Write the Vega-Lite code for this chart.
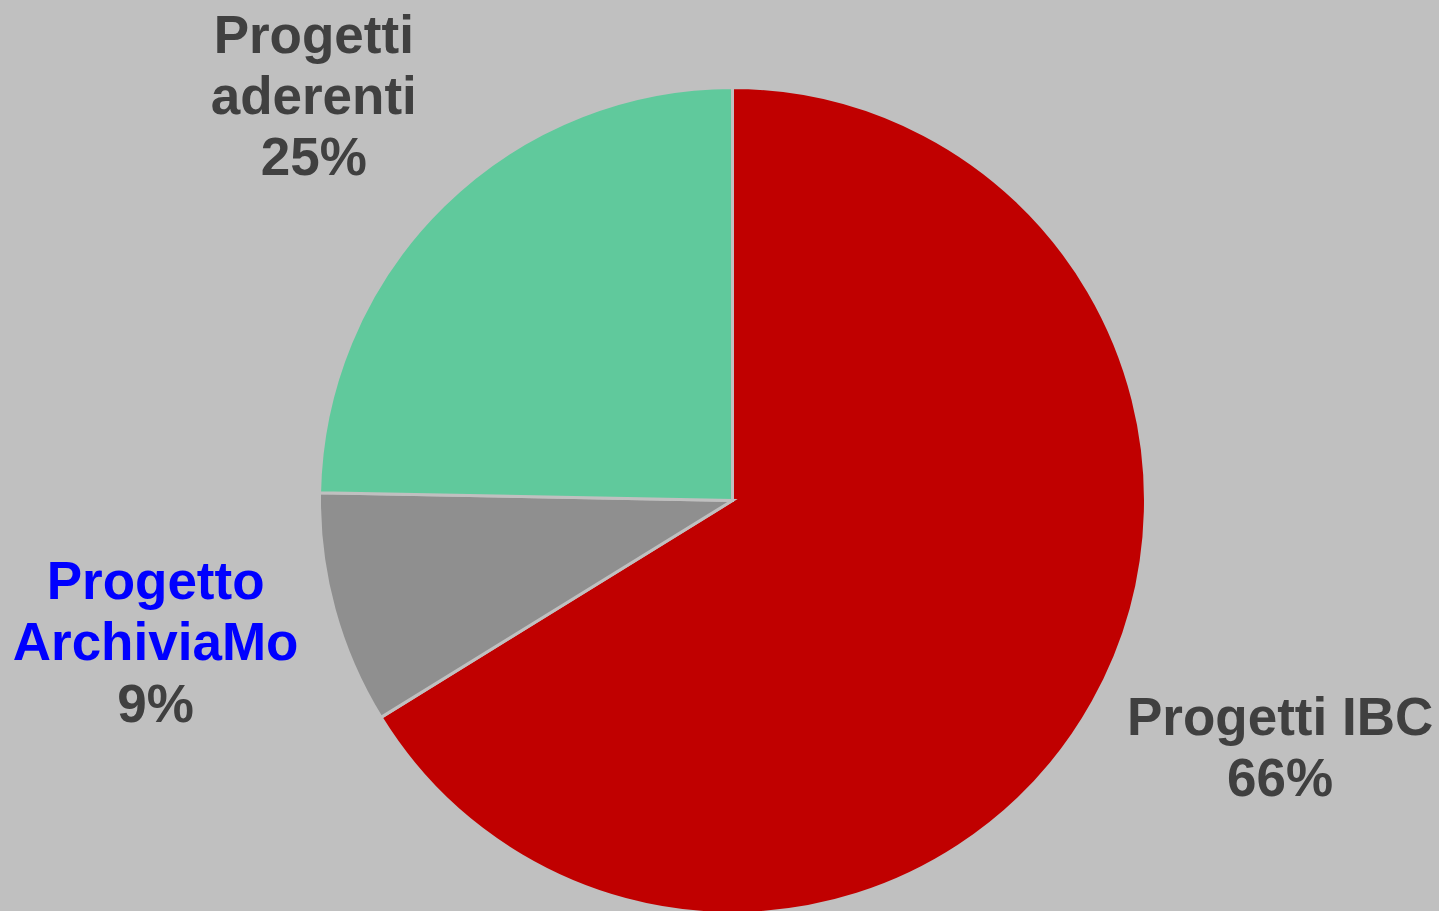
{
  "$schema": "https://vega.github.io/schema/vega-lite/v6.json",
  "autosize": "none",
  "width": 1413,
  "height": 821,
  "padding": {"left": 26, "top": 90, "right": 0, "bottom": 0},
  "background": "#C0C0C0",
  "config": {"view": {"stroke": null}},
  "data": {
    "values": [
      {"cat": "Progetti IBC", "value": 66.2, "ord": 1, "label": "Progetti IBC\n66%", "link": "", "pct": ""},
      {"cat": "Progetto ArchiviaMo", "value": 9.1, "ord": 2, "label": "", "link": "Progetto\nArchiviaMo", "pct": "9%"},
      {"cat": "Progetti aderenti", "value": 24.7, "ord": 3, "label": "Progetti\naderenti\n25%", "link": "", "pct": ""}
    ]
  },
  "encoding": {
    "theta": {"field": "value", "type": "quantitative", "stack": true},
    "order": {"field": "ord", "type": "quantitative", "sort": "ascending"}
  },
  "layer": [
    {
      "mark": {"type": "arc", "outerRadius": 413, "stroke": "#C0C0C0", "strokeWidth": 3},
      "encoding": {
        "color": {
          "field": "cat",
          "type": "nominal",
          "scale": {
            "domain": ["Progetti IBC", "Progetto ArchiviaMo", "Progetti aderenti"],
            "range": ["#C00000", "#8F8F8F", "#60C99C"]
          },
          "legend": null
        }
      }
    },
    {
      "mark": {
        "type": "text",
        "radius": 595,
        "font": "Liberation Sans",
        "fontWeight": "bold",
        "fontSize": 53,
        "lineHeight": 61,
        "lineBreak": "\n",
        "align": "center",
        "baseline": "middle",
        "color": "#404040",
        "dx": {"expr": "datum.cat === 'Progetti IBC' ? 28 : -2"},
        "dy": {"expr": "datum.cat === 'Progetti IBC' ? -71 : -39"}
      },
      "encoding": {"text": {"field": "label", "type": "nominal"}}
    },
    {
      "mark": {
        "type": "text",
        "radius": 595,
        "font": "Liberation Sans",
        "fontWeight": "bold",
        "fontSize": 53,
        "lineHeight": 61,
        "lineBreak": "\n",
        "align": "center",
        "baseline": "middle",
        "color": "#0000FF",
        "dx": -3,
        "dy": -75
      },
      "encoding": {"text": {"field": "link", "type": "nominal"}}
    },
    {
      "mark": {
        "type": "text",
        "radius": 595,
        "font": "Liberation Sans",
        "fontWeight": "bold",
        "fontSize": 53,
        "align": "center",
        "baseline": "middle",
        "color": "#404040",
        "dx": -3,
        "dy": 48
      },
      "encoding": {"text": {"field": "pct", "type": "nominal"}}
    }
  ]
}
